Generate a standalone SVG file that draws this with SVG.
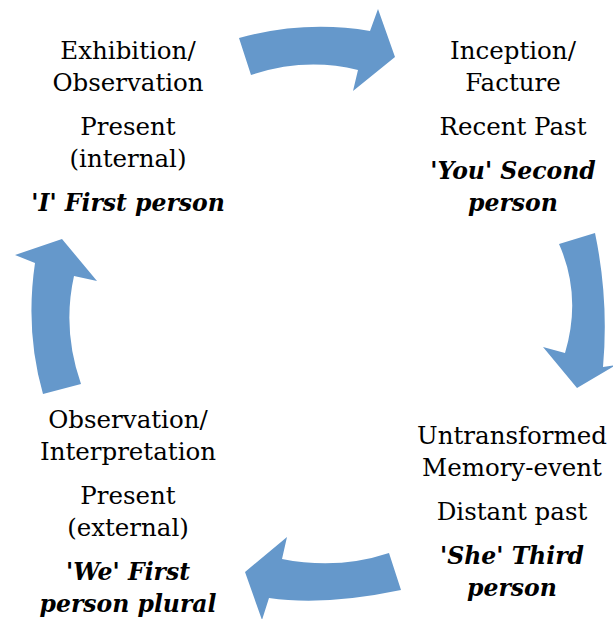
<svg xmlns="http://www.w3.org/2000/svg" width="613" height="619" viewBox="0 0 613 619">
<style>
.t{font-family:"DejaVu Serif","Liberation Serif",serif;font-size:24.5px;fill:#000;text-anchor:middle}
.b{font-weight:bold;font-style:italic;font-size:23.5px}
.arr{fill:#6598CB}
</style>
<rect width="613" height="619" fill="#fff"/>
<g id="connectors">
<path class="arr" d="M239,38 Q305,20 370,31 L378,9 L395,57 L353,91 L358,70 Q305,57 251,75 Z"/>
<path class="arr" d="M559,244 L595,233 Q609,300 603,367 L616,365 L577,388 L543,347 L565,353 Q582,296 559,244 Z"/>
<path class="arr" d="M389,553 L401,590 Q325,606 269,598 L262,620 L245,572 L287,537 L282,559 Q338,570 389,553 Z"/>
<path class="arr" d="M43,394 L81,384 Q62,330 74,276 L97,281 L62,239 L15,255 L35,263 Q25,331 43,394 Z"/>
</g>
<g id="node-exhibition">
<text class="t" x="128" y="59">Exhibition/</text>
<text class="t" x="128" y="91">Observation</text>
<text class="t" x="128" y="135">Present</text>
<text class="t" x="128" y="167">(internal)</text>
<text class="t b" x="128" y="211">'I' First person</text>
</g>
<g id="node-inception">
<text class="t" x="513" y="59">Inception/</text>
<text class="t" x="513" y="91">Facture</text>
<text class="t" x="513" y="135">Recent Past</text>
<text class="t b" x="513" y="179">'You' Second</text>
<text class="t b" x="513" y="211">person</text>
</g>
<g id="node-memory">
<text class="t" x="512" y="444">Untransformed</text>
<text class="t" x="512" y="476">Memory-event</text>
<text class="t" x="512" y="520">Distant past</text>
<text class="t b" x="512" y="564">'She' Third</text>
<text class="t b" x="512" y="596">person</text>
</g>
<g id="node-interpretation">
<text class="t" x="128" y="428">Observation/</text>
<text class="t" x="128" y="460">Interpretation</text>
<text class="t" x="128" y="504">Present</text>
<text class="t" x="128" y="536">(external)</text>
<text class="t b" x="128" y="580">'We' First</text>
<text class="t b" x="128" y="612">person plural</text>
</g>
</svg>
